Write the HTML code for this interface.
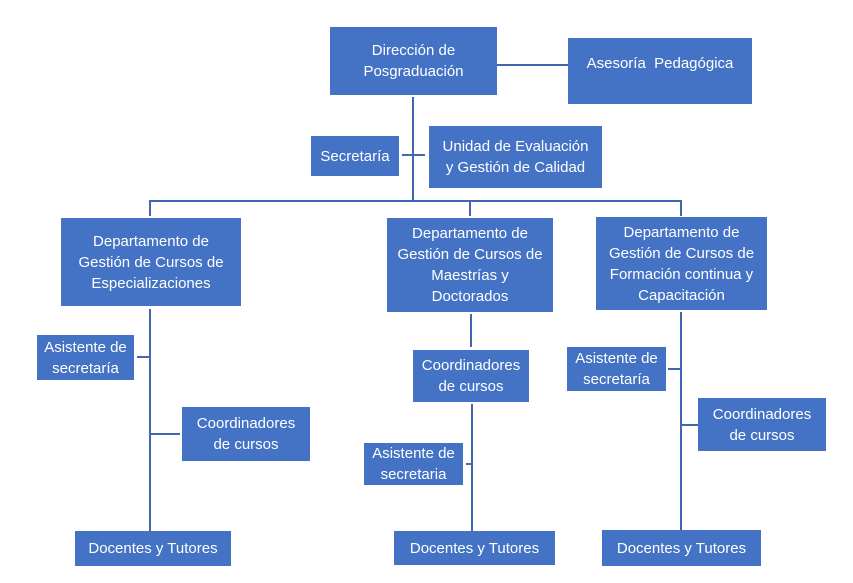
<!DOCTYPE html>
<html><head><meta charset="utf-8"><style>
body{margin:0;width:853px;height:583px;background:#fff;position:relative;overflow:hidden;font-family:"Liberation Sans",sans-serif}
.b{position:absolute;background:#4472c4;color:#fff;font-size:15px;line-height:21px;text-align:center;display:flex;align-items:center;justify-content:center}
svg{position:absolute;left:0;top:0}
</style></head><body>
<svg width="853" height="583"><g stroke="#4468b0" stroke-width="2" fill="none">
<path d="M497 65H568"/>
<path d="M413 97V201"/>
<path d="M402 155H425"/>
<path d="M150 216V201H681V216M470 201V216"/>
<path d="M150 309V531M137 357H150M151 434H180"/>
<path d="M471 314V347M472 404V531M466 464H472"/>
<path d="M681 312V531M668 369H681M681 425H698"/>
</g></svg>
<div class="b" style="left:330px;top:27px;width:167px;height:68px">Dirección de<br>Posgraduación</div>
<div class="b" style="left:568px;top:38px;width:184px;height:66px;align-items:flex-start;padding-top:15px;box-sizing:border-box">Asesoría&nbsp; Pedagógica</div>
<div class="b" style="left:311px;top:136px;width:88px;height:40px">Secretaría</div>
<div class="b" style="left:429px;top:126px;width:173px;height:62px">Unidad de Evaluación<br>y Gestión de Calidad</div>
<div class="b" style="left:61px;top:218px;width:180px;height:88px">Departamento de<br>Gestión de Cursos de<br>Especializaciones</div>
<div class="b" style="left:387px;top:218px;width:166px;height:94px">Departamento de<br>Gestión de Cursos de<br>Maestrías y<br>Doctorados</div>
<div class="b" style="left:596px;top:217px;width:171px;height:93px">Departamento de<br>Gestión de Cursos de<br>Formación continua y<br>Capacitación</div>
<div class="b" style="left:37px;top:335px;width:97px;height:45px">Asistente de<br>secretaría</div>
<div class="b" style="left:182px;top:407px;width:128px;height:54px">Coordinadores<br>de cursos</div>
<div class="b" style="left:75px;top:531px;width:156px;height:35px">Docentes y Tutores</div>
<div class="b" style="left:413px;top:350px;width:116px;height:52px">Coordinadores<br>de cursos</div>
<div class="b" style="left:364px;top:443px;width:99px;height:42px">Asistente de<br>secretaria</div>
<div class="b" style="left:394px;top:531px;width:161px;height:34px">Docentes y Tutores</div>
<div class="b" style="left:567px;top:347px;width:99px;height:44px">Asistente de<br>secretaría</div>
<div class="b" style="left:698px;top:398px;width:128px;height:53px">Coordinadores<br>de cursos</div>
<div class="b" style="left:602px;top:530px;width:159px;height:36px">Docentes y Tutores</div>
</body></html>
